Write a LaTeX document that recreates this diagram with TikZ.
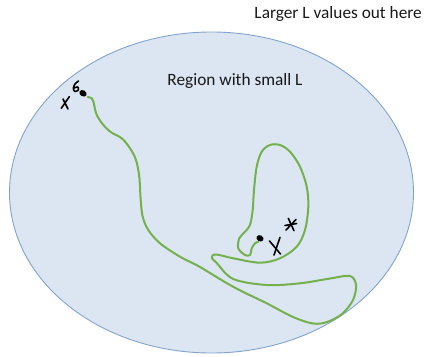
\documentclass[tikz,border=0pt]{standalone}
\usepackage{fontspec}
\setmainfont{Carlito}
\definecolor{regionfill}{RGB}{220,230,242}
\definecolor{regionedge}{RGB}{130,163,204}
\definecolor{pathgreen}{RGB}{116,176,76}
\begin{document}
\begin{tikzpicture}[x=1pt, y=-1pt,
    label/.style={inner sep=0pt, font=\fontsize{17.3}{20}\selectfont, text=black!90},
    ink/.style={black, line width=1.6pt, line cap=round, line join=round},
    track/.style={pathgreen, line width=2pt, line cap=round, line join=round}]
    \useasboundingbox (0, 0) rectangle (425, 356);

    % region with small L
    \draw[fill=regionfill, draw=regionedge, line width=0.9pt] (211.5, 192.5) ellipse [x radius=202, y radius=160.5];

    % labels
    \node[label, anchor=east] (outer) at (422, 14) {Larger L values out here};
    \node[label] (inner) at (235, 81) {Region with small L};

    % optimisation track
    \draw[track] plot[smooth, tension=0.55] coordinates {
        (87.7,97) (92,98.5) (94,104) (96,113) (101,122) (110,131.5) (121.7,138.3)
        (130,148.3) (136,160) (139.3,177) (140.7,200) (142.7,216.7) (148.3,230)
        (160,243.3) (180,256.7) (200,267) (233,286.7) (266.7,303.3) (293,317)
        (313,323.5) (327,322) (342,314) (353,300) (356,285) (350,276)
        (330,278.5) (300,283.3) (266.7,285) (233.3,279) (216.7,263) (211.7,257.5)
        (216,254.5) (233.3,258.3) (260,262.7) (280,258.3) (296.7,246.7) (305,230)
        (308.3,206.7) (306.7,186.7) (300,166.7) (290,151.7) (280,145) (270,145)
        (261.7,151.7) (256.7,166.7) (254,190) (252.7,210) (250,225) (245,231.7)
        (239.3,238.3) (238.3,248.3) (245,255) (250,255) (251.7,248.3) (255,243.3)
        (258.3,241.7)};

    % start point x^0
    \fill[black, rotate around={-30:(83,93.3)}] (83, 93.3) ellipse [x radius=3.9, y radius=3];
    \draw[ink] (69.3, 96.7) -- (61.3, 108.3);
    \draw[ink] (63, 99) .. controls (65, 103) .. (68, 109);
    \draw[ink] plot[smooth] coordinates {(78.5,81) (75,84) (73.3,88.5) (75,91.5) (78.3,90) (77.8,87) (74,88)};

    % end point x^*
    \fill[black, rotate around={-30:(260,238.3)}] (260, 238.3) ellipse [x radius=3.7, y radius=3];
    \draw[ink] (280, 237.3) -- (274, 255);
    \draw[ink] (269.5, 241) -- (280.5, 254);
    \draw[ink] (288.3, 218.3) -- (294, 230.7);
    \draw[ink] (285, 225.5) -- (296.7, 223.5);
    \draw[ink] (286, 230) -- (296, 219.5);
\end{tikzpicture}
\end{document}
